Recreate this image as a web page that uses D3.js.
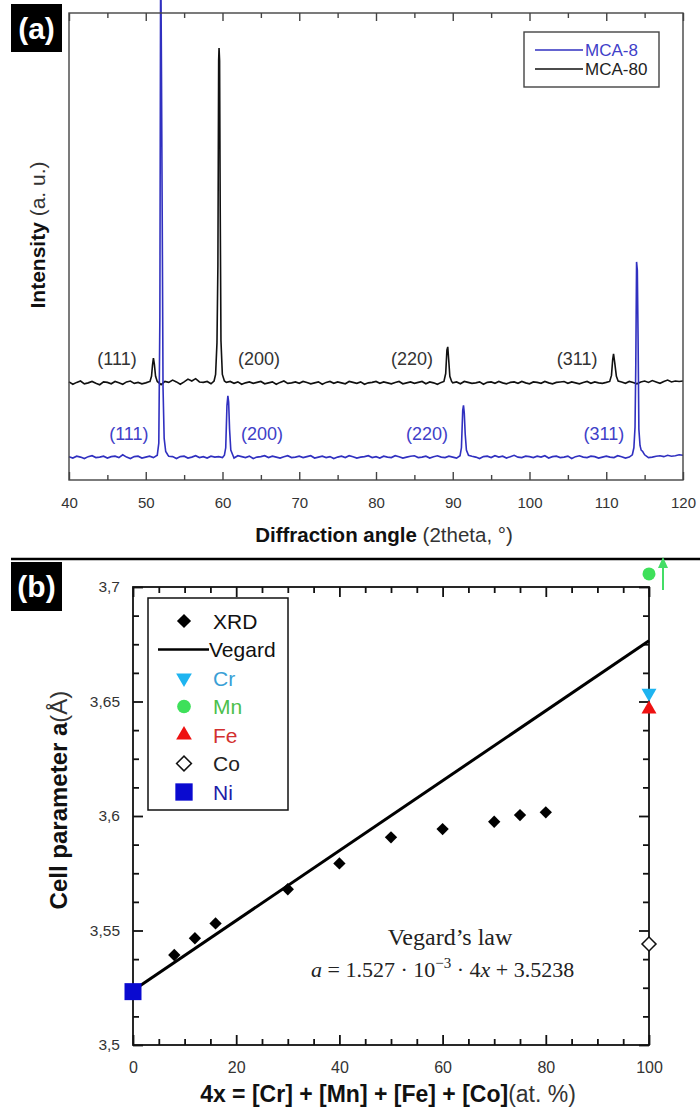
<!DOCTYPE html>
<html>
<head>
<meta charset="utf-8">
<script src="https://cdn.jsdelivr.net/npm/d3@7"></script>
<style>
  body { margin: 0; background: #fff; }
  svg { display: block; font-family: 'Liberation Sans', Arial, sans-serif; }
</style>
</head>
<body>
<script>
// ---------- Data, panel (a): XRD patterns ----------
// baseline samples, 40..120 deg every 0.5 deg (a.u.)
const angleStart = 40, angleStep = 0.5;
const mca80Noise = [
  2,-3,1,4,-2,0,3,-1,-4,2, 1,-2,3,0,-3,2,4,-1,1,-2,
  0,3,-1,2,-4,3,1,6,2,-3, 2,8,4,9,2,1,3,-2,1,0,
  -2,1,3,-1,2,-3,0,2,-1,1, 3,-2,0,2,-3,1,4,-1,0,2,
  -1,3,1,-2,0,2,-3,1,3,-1, 2,0,-2,3,1,-1,2,-3,0,1,
  3,-1,2,0,-2,1,3,-2,0,2, -1,1,3,-2,2,0,-3,1,2,-1,
  0,2,-2,3,1,-1,0,2,-3,1, 2,-1,3,0,-2,1,2,-1,3,0,
  -2,2,1,-1,3,0,-2,1,2,3, -1,2,0,-2,1,3,-1,2,0,-1,
  1,3,-2,0,2,-1,3,1,-2,2, 4,1,5,2,-1,3,6,2,4,3,
  4
];
const mca8Noise = [
  1,-2,2,0,-3,1,3,-1,0,2, -2,1,2,-1,5,0,-3,1,2,-2,
  0,2,-1,3,-2,0,2,1,-3,1, 2,-2,0,3,-1,1,-2,2,0,1,
  -1,2,0,-2,3,1,-1,2,-3,0, 1,3,-1,2,0,-2,1,3,-1,0,
  2,-1,1,3,-2,0,2,-1,1,-3, 0,2,-1,3,1,-2,0,1,3,-1,
  1,-2,2,0,-1,3,1,-2,0,2, 3,-1,0,2,-2,1,3,0,-1,2,
  0,-2,1,3,-1,2,0,-3,1,2, -1,3,0,2,-2,1,4,0,-1,2,
  1,-1,2,0,3,-2,1,2,-1,0, 2,-3,1,3,0,-1,2,1,-2,0,
  2,0,-1,3,1,-2,0,2,1,3, 2,-1,0,2,3,1,4,2,3,5,
  4
];
// peaks [angle, intensity above baseline]
const mca80Peaks = [
  [[50.55,3],[50.75,14],[50.88,38],[51.0,53],[51.12,40],[51.28,14],[51.5,3]],
  [[58.9,4],[59.1,18],[59.28,86],[59.4,250],[59.5,690],[59.55,717],[59.62,690],[59.7,380],[59.8,90],[59.98,18],[60.25,4]],
  [[88.85,3],[89.08,20],[89.24,70],[89.35,77],[89.47,50],[89.62,14],[89.85,3]],
  [[110.45,3],[110.68,16],[110.84,50],[110.95,62],[111.1,44],[111.32,14],[111.55,4]]
];
const mca8Peaks = [
  [[51.5,4],[51.7,30],[51.84,300],[51.93,985],[51.99,985],[52.05,820],[52.15,500],[52.25,150],[52.4,40],[52.6,12],[52.9,4]],
  [[60.25,4],[60.42,20],[60.58,110],[60.7,131],[60.8,118],[60.92,60],[61.08,15],[61.35,4]],
  [[90.95,3],[91.13,20],[91.3,100],[91.4,111],[91.5,95],[91.62,50],[91.78,15],[92.05,4]],
  [[113.4,5],[113.6,20],[113.75,64],[113.85,200],[113.95,418],[114.05,400],[114.15,250],[114.25,60],[114.4,25],[114.55,15],[114.75,12],[115.0,5]]
];
const mca80Offset = 208, mca8Offset = 49;
const hklLabels = ['(111)', '(200)', '(220)', '(311)'];
const mca80LabelAngle = [46.25, 64.75, 84.7, 106.2];
const mca8LabelAngle = [47.8, 65.15, 86.65, 109.7];
const labelLift = 51;

// ---------- Data, panel (b): cell parameter ----------
const xrdComp = [8, 12, 16, 30, 40, 50, 60, 70, 75, 80];
const xrdA = [3.5393, 3.5466, 3.5531, 3.568, 3.5793, 3.5907, 3.5943, 3.5975, 3.6004, 3.6016];
const vegardComp = [0, 100];
const vegardA = [3.5238, 3.6765];
const elemNames = ['Cr', 'Mn', 'Fe', 'Co', 'Ni'];
const elemComp = [100, 100, 100, 100, 0];
const elemA = [3.6537, 3.7057, 3.6467, 3.5441, 3.5233];
const yTicksB = [3.5, 3.55, 3.6, 3.65, 3.7];
const xTicksB = [0, 20, 40, 60, 80, 100];
const xTicksA = [40, 50, 60, 70, 80, 90, 100, 110, 120];

const W = 700, H = 1109;
const svg = d3.select('body').append('svg')
    .attr('width', W)
    .attr('height', H);

// ================= Panel (a) =================
const xA = d3.scaleLinear().domain([40, 120]).range([69, 683]);
const yA = d3.scaleLinear().domain([0, 1000]).range([480, 13]);

// build a trace: baseline samples outside the peaks + peak points
function buildTrace(noise, peaks, offset) {
    let pts = noise.map((v, i) => [angleStart + i * angleStep, v]);
    pts = pts.filter(p => !peaks.some(pk => p[0] >= pk[0][0] && p[0] <= pk[pk.length - 1][0]));
    peaks.forEach(pk => pts = pts.concat(pk));
    pts.sort((a, b) => a[0] - b[0]);
    return pts.map(p => [p[0], p[1] + offset]);
}

const lineA = d3.line().x(d => xA(d[0])).y(d => yA(d[1]));

svg.append('path')
    .datum(buildTrace(mca80Noise, mca80Peaks, mca80Offset))
    .attr('d', lineA)
    .attr('fill', 'none')
    .attr('stroke', '#111')
    .attr('stroke-width', 1.6);

svg.append('path')
    .datum(buildTrace(mca8Noise, mca8Peaks, mca8Offset))
    .attr('d', lineA)
    .attr('fill', 'none')
    .attr('stroke', '#3030c0')
    .attr('stroke-width', 1.6);

// frame
svg.append('rect')
    .attr('x', 69).attr('y', 13)
    .attr('width', 683 - 69).attr('height', 480 - 13)
    .attr('fill', 'none')
    .attr('stroke', '#444')
    .attr('stroke-width', 1.4);

// x axis (bottom) with inward ticks
const axBottomA = svg.append('g')
    .attr('transform', 'translate(0,480)')
    .call(d3.axisBottom(xA).tickValues(xTicksA).tickSizeInner(-8).tickSizeOuter(0).tickPadding(17));
axBottomA.select('.domain').remove();
axBottomA.selectAll('text').attr('font-size', 15).attr('fill', '#333').attr('font-family', null);
axBottomA.selectAll('line').attr('stroke', '#444').attr('stroke-width', 1.4);

const minorA = d3.range(45, 120, 10);
svg.append('g')
    .attr('transform', 'translate(0,480)')
    .call(d3.axisBottom(xA).tickValues(minorA).tickSizeInner(-5).tickSizeOuter(0).tickFormat(''))
    .call(g => g.select('.domain').remove())
    .selectAll('line').attr('stroke', '#444').attr('stroke-width', 1.4);

// top axis ticks
svg.append('g')
    .attr('transform', 'translate(0,13)')
    .call(d3.axisTop(xA).tickValues(xTicksA).tickSizeInner(-8).tickSizeOuter(0).tickFormat(''))
    .call(g => g.select('.domain').remove())
    .selectAll('line').attr('stroke', '#444').attr('stroke-width', 1.4);
svg.append('g')
    .attr('transform', 'translate(0,13)')
    .call(d3.axisTop(xA).tickValues(minorA).tickSizeInner(-5).tickSizeOuter(0).tickFormat(''))
    .call(g => g.select('.domain').remove())
    .selectAll('line').attr('stroke', '#444').attr('stroke-width', 1.4);

// hkl labels
svg.append('g').selectAll('text')
    .data(hklLabels)
    .join('text')
    .attr('x', (d, i) => xA(mca80LabelAngle[i]))
    .attr('y', yA(mca80Offset + labelLift))
    .attr('dy', '0.35em')
    .attr('text-anchor', 'middle')
    .attr('font-size', 18)
    .attr('fill', '#333')
    .text(d => d);
svg.append('g').selectAll('text')
    .data(hklLabels)
    .join('text')
    .attr('x', (d, i) => xA(mca8LabelAngle[i]))
    .attr('y', yA(mca8Offset + labelLift))
    .attr('dy', '0.35em')
    .attr('text-anchor', 'middle')
    .attr('font-size', 18)
    .attr('fill', '#4040c8')
    .text(d => d);

// legend (a)
const legA = svg.append('g');
legA.append('rect')
    .attr('x', 524).attr('y', 32).attr('width', 135).attr('height', 55)
    .attr('fill', '#fff').attr('stroke', '#444').attr('stroke-width', 1.4);
[['MCA-8', '#3030c0', '#4040c8', 50], ['MCA-80', '#111', '#222', 69]].forEach(([name, lc, tc, y]) => {
    legA.append('line').attr('x1', 535).attr('x2', 583).attr('y1', y).attr('y2', y)
        .attr('stroke', lc).attr('stroke-width', 1.3);
    legA.append('text').attr('x', 585).attr('y', y).attr('dy', '0.36em')
        .attr('font-size', 17).attr('fill', tc).text(name);
});

// axis titles (a)
svg.append('text')
    .attr('x', 384).attr('y', 542)
    .attr('text-anchor', 'middle')
    .attr('font-size', 20.5)
    .attr('fill', '#111')
    .call(t => {
        t.append('tspan').attr('font-weight', 'bold').text('Diffraction angle');
        t.append('tspan').attr('fill', '#333').text(' (2theta, °)');
    });
svg.append('text')
    .attr('transform', 'translate(45,235) rotate(-90)')
    .attr('text-anchor', 'middle')
    .attr('font-size', 21)
    .attr('fill', '#111')
    .call(t => {
        t.append('tspan').attr('font-weight', 'bold').text('Intensity');
        t.append('tspan').attr('fill', '#333').text(' (a. u.)');
    });

// panel tag (a)
svg.append('rect').attr('x', 11).attr('y', 4).attr('width', 51).attr('height', 48).attr('fill', '#000');
svg.append('text').attr('x', 36.5).attr('y', 39).attr('text-anchor', 'middle')
    .attr('font-size', 30).attr('font-weight', 'bold').attr('fill', '#fff').text('(a)');

// separator
svg.append('line').attr('x1', 11).attr('x2', 700).attr('y1', 559).attr('y2', 559)
    .attr('stroke', '#000').attr('stroke-width', 2.5);

// ================= Panel (b) =================
const xB = d3.scaleLinear().domain([0, 100]).range([133, 649]);
const yB = d3.scaleLinear().domain([3.5, 3.7]).range([1045, 587]);

svg.append('rect')
    .attr('x', 133).attr('y', 587)
    .attr('width', 649 - 133).attr('height', 1045 - 587)
    .attr('fill', 'none').attr('stroke', '#111').attr('stroke-width', 1.8);

const minorXB = d3.range(0, 101, 5).filter(v => v % 20 !== 0);
const minorYB = d3.range(1, 16).map(i => 3.5 + i * 0.0125).filter((v, i) => (i + 1) % 4 !== 0);

function styleAxis(g) {
    g.select('.domain').remove();
    g.selectAll('line').attr('stroke', '#111').attr('stroke-width', 1.8);
    g.selectAll('text').attr('font-family', null).attr('fill', '#333');
}

const axBotB = svg.append('g').attr('transform', 'translate(0,1045)')
    .call(d3.axisBottom(xB).tickValues(xTicksB).tickSizeInner(-10).tickSizeOuter(0).tickPadding(17))
    .call(styleAxis);
axBotB.selectAll('text').attr('font-size', 16);
svg.append('g').attr('transform', 'translate(0,1045)')
    .call(d3.axisBottom(xB).tickValues(minorXB).tickSizeInner(-6).tickSizeOuter(0).tickFormat(''))
    .call(styleAxis);
svg.append('g').attr('transform', 'translate(0,587)')
    .call(d3.axisTop(xB).tickValues(xTicksB).tickSizeInner(-10).tickSizeOuter(0).tickFormat(''))
    .call(styleAxis);
svg.append('g').attr('transform', 'translate(0,587)')
    .call(d3.axisTop(xB).tickValues(minorXB).tickSizeInner(-6).tickSizeOuter(0).tickFormat(''))
    .call(styleAxis);

const axLeftB = svg.append('g').attr('transform', 'translate(133,0)')
    .call(d3.axisLeft(yB).tickValues(yTicksB).tickSizeInner(-10).tickSizeOuter(0).tickPadding(13)
        .tickFormat(d => String(d).replace('.', ',')))
    .call(styleAxis);
axLeftB.selectAll('text').attr('font-size', 15.5);
svg.append('g').attr('transform', 'translate(133,0)')
    .call(d3.axisLeft(yB).tickValues(minorYB).tickSizeInner(-6).tickSizeOuter(0).tickFormat(''))
    .call(styleAxis);
svg.append('g').attr('transform', 'translate(649,0)')
    .call(d3.axisRight(yB).tickValues(yTicksB).tickSizeInner(-10).tickSizeOuter(0).tickFormat(''))
    .call(styleAxis);
svg.append('g').attr('transform', 'translate(649,0)')
    .call(d3.axisRight(yB).tickValues(minorYB).tickSizeInner(-6).tickSizeOuter(0).tickFormat(''))
    .call(styleAxis);

// Vegard line
svg.append('path')
    .datum(vegardComp.map((c, i) => [c, vegardA[i]]))
    .attr('d', d3.line().x(d => xB(d[0])).y(d => yB(d[1])))
    .attr('stroke', '#000').attr('stroke-width', 3).attr('fill', 'none');

// XRD points
const diamond = d3.symbol().type(d3.symbolSquare).size(76);
svg.append('g').selectAll('path')
    .data(xrdComp)
    .join('path')
    .attr('d', diamond)
    .attr('transform', (d, i) => `translate(${xB(d)},${yB(xrdA[i])}) rotate(45)`)
    .attr('fill', '#000');

// pure elements
const elemStyle = {
    Cr: { type: d3.symbolTriangle, size: 97, rot: 180, fill: '#1eb4f0', stroke: 'none', text: '#3a9fd6' },
    Mn: { type: d3.symbolCircle, size: 133, rot: 0, fill: '#3ee05a', stroke: 'none', text: '#4cbf4c' },
    Fe: { type: d3.symbolTriangle, size: 97, rot: 0, fill: '#ee1111', stroke: 'none', text: '#d33030' },
    Co: { type: d3.symbolSquare, size: 98, rot: 45, fill: '#fff', stroke: '#111', text: '#222' },
    Ni: { type: d3.symbolSquare, size: 289, rot: 0, fill: '#0a0ad0', stroke: 'none', text: '#1c1ca8' }
};
svg.append('g').selectAll('path')
    .data(elemNames)
    .join('path')
    .attr('d', d => d3.symbol().type(elemStyle[d].type).size(elemStyle[d].size)())
    .attr('transform', (d, i) => `translate(${xB(elemComp[i])},${yB(elemA[i])}) rotate(${elemStyle[d].rot})`)
    .attr('fill', d => elemStyle[d].fill)
    .attr('stroke', d => elemStyle[d].stroke)
    .attr('stroke-width', 1.5);

// Mn off-scale arrow
const arrowX = xB(100) + 14;
svg.append('line').attr('x1', arrowX).attr('x2', arrowX).attr('y1', 590).attr('y2', 566)
    .attr('stroke', '#44dd66').attr('stroke-width', 2);
svg.append('path')
    .attr('d', `M${arrowX - 5},568 L${arrowX},557 L${arrowX + 5},568 Z`)
    .attr('fill', '#44dd66');

// legend (b)
const legB = svg.append('g');
legB.append('rect')
    .attr('x', 148).attr('y', 598).attr('width', 140).attr('height', 212)
    .attr('fill', '#fff').attr('stroke', '#111').attr('stroke-width', 1.5);
const legRowY = d => 621 + d * 28.5;
legB.append('path').attr('d', d3.symbol().type(d3.symbolSquare).size(100)())
    .attr('transform', `translate(184,${legRowY(0)}) rotate(45)`).attr('fill', '#000');
legB.append('text').attr('x', 213).attr('y', legRowY(0)).attr('dy', '0.36em')
    .attr('font-size', 21).attr('fill', '#111').text('XRD');
legB.append('line').attr('x1', 158).attr('x2', 209).attr('y1', legRowY(1)).attr('y2', legRowY(1))
    .attr('stroke', '#000').attr('stroke-width', 2.5);
legB.append('text').attr('x', 209).attr('y', legRowY(1)).attr('dy', '0.36em')
    .attr('font-size', 21).attr('fill', '#111').text('Vegard');
elemNames.forEach((n, i) => {
    const s = elemStyle[n];
    const sz = n === 'Ni' ? 300 : (n === 'Co' ? 110 : s.size * 1.1);
    legB.append('path').attr('d', d3.symbol().type(s.type).size(sz)())
        .attr('transform', `translate(184,${legRowY(i + 2)}) rotate(${s.rot})`)
        .attr('fill', s.fill).attr('stroke', s.stroke).attr('stroke-width', 1.5);
    legB.append('text').attr('x', 213).attr('y', legRowY(i + 2)).attr('dy', '0.36em')
        .attr('font-size', 21).attr('fill', s.text).text(n);
});

// Vegard's law annotation
svg.append('text').attr('x', 450).attr('y', 945).attr('text-anchor', 'middle')
    .attr('font-family', "'Liberation Serif', serif").attr('font-size', 24).attr('fill', '#222')
    .text('Vegard’s law');
svg.append('text').attr('x', 311).attr('y', 977)
    .attr('font-family', "'Liberation Serif', serif").attr('font-size', 22).attr('fill', '#222')
    .call(t => {
        t.append('tspan').attr('font-style', 'italic').text('a');
        t.append('tspan').text(' = 1.527 · 10');
        t.append('tspan').attr('dy', -9).attr('font-size', 15).text('−3');
        t.append('tspan').attr('dy', 9).text(' · 4');
        t.append('tspan').attr('font-style', 'italic').text('x');
        t.append('tspan').text(' + 3.5238');
    });

// axis titles (b)
svg.append('text').attr('x', 388).attr('y', 1102).attr('text-anchor', 'middle')
    .attr('font-size', 23).attr('fill', '#111')
    .call(t => {
        t.append('tspan').attr('font-weight', 'bold').text('4x = [Cr] + [Mn] + [Fe] + [Co]');
        t.append('tspan').attr('fill', '#333').text('(at. %)');
    });
svg.append('text')
    .attr('transform', 'translate(67,800) rotate(-90)')
    .attr('text-anchor', 'middle')
    .attr('font-size', 24).attr('fill', '#111')
    .call(t => {
        t.append('tspan').attr('font-weight', 'bold').text('Cell parameter a');
        t.append('tspan').attr('fill', '#333').text('(Å)');
    });

// panel tag (b)
svg.append('rect').attr('x', 11).attr('y', 562).attr('width', 51).attr('height', 49).attr('fill', '#000');
svg.append('text').attr('x', 36.5).attr('y', 597).attr('text-anchor', 'middle')
    .attr('font-size', 30).attr('font-weight', 'bold').attr('fill', '#fff').text('(b)');
</script>
</body>
</html>
